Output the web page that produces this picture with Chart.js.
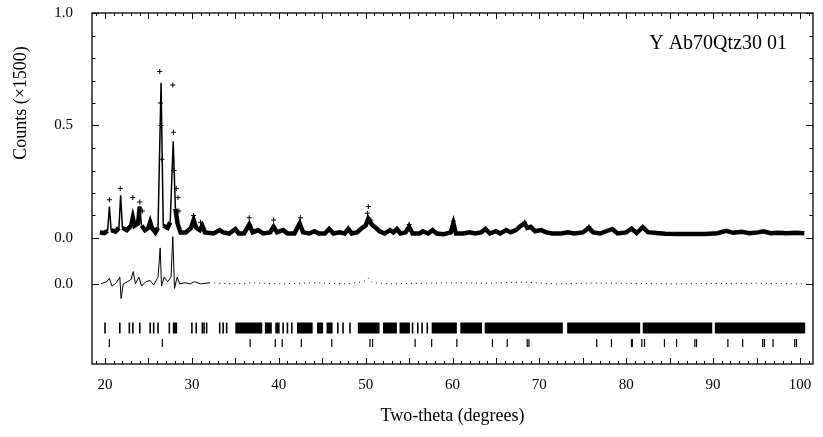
<!DOCTYPE html>
<html>
<head>
<meta charset="utf-8">
<script src="https://cdn.jsdelivr.net/npm/chart.js@4.4.1/dist/chart.umd.min.js"></script>
<style>
  html, body { margin: 0; padding: 0; background: #fff; }
  #chart { display: block; }
</style>
</head>
<body>
<canvas id="chart" width="823" height="437"></canvas>
<script>
// Calculated profile (two-theta, counts / 1500)
const calcX = [19.4, 19.9, 20.3, 20.5, 20.7, 21.2, 21.6, 21.8, 22.0, 22.5, 23.0, 23.2, 23.4, 23.8, 24.0, 24.2, 24.6, 25.0, 25.2, 25.4, 25.8, 26.1, 26.45, 26.7, 27.2, 27.5, 27.85, 28.1, 28.35, 28.7, 29.3, 29.9, 30.2, 30.5, 30.9, 31.2, 31.5, 32.5, 33.2, 33.6, 34.3, 35.0, 35.4, 36.0, 36.6, 37.0, 37.6, 38.2, 39.0, 39.4, 39.8, 40.5, 41.0, 41.8, 42.4, 42.8, 43.5, 44.1, 44.6, 45.3, 45.8, 46.3, 47.0, 47.6, 48.0, 48.4, 49.0, 49.6, 50.0, 50.3, 50.7, 51.2, 51.6, 52.2, 52.8, 53.2, 53.6, 54.0, 54.6, 55.0, 55.4, 56.2, 56.6, 57.2, 57.7, 58.2, 59.0, 59.8, 60.1, 60.4, 61.2, 62.0, 62.6, 63.3, 63.8, 64.3, 65.0, 65.5, 66.2, 66.7, 67.3, 67.9, 68.3, 68.6, 69.0, 69.5, 70.2, 70.8, 71.5, 72.5, 73.3, 74.0, 75.0, 75.7, 76.2, 77.0, 78.4, 79.0, 80.0, 80.6, 81.2, 81.9, 82.5, 83.5, 84.5, 86.0, 87.5, 89.0, 90.5, 91.5, 92.3, 93.3, 94.2, 95.2, 95.8, 96.6, 97.5, 98.5, 99.5, 100.5];
const calcY = [0.025, 0.022, 0.032, 0.14, 0.035, 0.028, 0.045, 0.19, 0.045, 0.035, 0.055, 0.09, 0.055, 0.065, 0.14, 0.055, 0.035, 0.045, 0.07, 0.045, 0.025, 0.045, 0.69, 0.055, 0.045, 0.07, 0.43, 0.13, 0.065, 0.025, 0.025, 0.045, 0.08, 0.045, 0.035, 0.055, 0.025, 0.02, 0.035, 0.025, 0.02, 0.04, 0.02, 0.02, 0.06, 0.025, 0.035, 0.02, 0.025, 0.05, 0.025, 0.035, 0.02, 0.02, 0.065, 0.025, 0.02, 0.03, 0.02, 0.02, 0.04, 0.02, 0.025, 0.02, 0.04, 0.02, 0.025, 0.045, 0.055, 0.085, 0.06, 0.045, 0.03, 0.02, 0.035, 0.025, 0.04, 0.02, 0.025, 0.05, 0.02, 0.02, 0.03, 0.02, 0.035, 0.02, 0.017, 0.025, 0.065, 0.02, 0.02, 0.025, 0.02, 0.025, 0.04, 0.02, 0.03, 0.02, 0.035, 0.025, 0.035, 0.055, 0.065, 0.045, 0.05, 0.03, 0.035, 0.025, 0.02, 0.02, 0.025, 0.02, 0.025, 0.045, 0.025, 0.02, 0.04, 0.02, 0.025, 0.042, 0.022, 0.048, 0.026, 0.022, 0.019, 0.018, 0.018, 0.018, 0.021, 0.032, 0.023, 0.028, 0.021, 0.025, 0.03, 0.021, 0.023, 0.021, 0.023, 0.021];

// Observed points standing above the profile
const obsX = [20.5, 21.75, 23.2, 24.0, 24.3, 26.3, 26.38, 26.45, 26.55, 27.8, 27.88, 27.95, 28.2, 28.4, 28.5, 30.2, 31.0, 36.6, 39.4, 42.5, 50.2, 50.3, 50.6, 55.0, 60.1, 68.3, 75.7];
const obsY = [0.17, 0.22, 0.18, 0.16, 0.12, 0.74, 0.6, 0.5, 0.35, 0.68, 0.47, 0.3, 0.22, 0.18, 0.12, 0.1, 0.07, 0.09, 0.08, 0.09, 0.11, 0.14, 0.08, 0.06, 0.075, 0.07, 0.05];

// Difference curve (obs - calc)
const diffX = [19.5, 20.2, 20.5, 20.8, 21.3, 21.7, 21.85, 22.1, 22.6, 23.0, 23.25, 23.5, 23.9, 24.2, 24.7, 25.2, 25.6, 26.1, 26.35, 26.5, 26.8, 27.2, 27.6, 27.8, 28.0, 28.3, 28.6, 29.2, 29.8, 30.3, 31.0, 32.0, 35.0, 37.0, 40.0, 44.0, 48.0, 49.8, 50.3, 50.8, 53.0, 56.0, 60.0, 64.0, 68.3, 72.0, 76.0, 80.0, 85.0, 90.0, 95.0, 100.5];
const diffY = [0, 0.01, 0.025, -0.01, 0.005, 0.03, -0.065, 0, 0.01, 0.02, 0.055, 0, 0.03, -0.01, 0.01, 0.015, -0.005, 0.03, 0.16, -0.01, 0.03, 0.01, 0.03, 0.21, -0.02, 0.03, 0, 0.005, 0, 0.01, 0, 0.005, 0, 0.005, 0, 0.005, 0, 0.01, 0.025, 0.005, 0, 0.003, 0.005, 0.003, 0.008, 0, 0.004, 0.003, 0, 0.002, 0.003, 0];

// Reflection markers
const albiteRefl = [20.0, 21.7, 22.8, 23.2, 24.0, 25.2, 25.6, 26.1, 27.4, 30.0, 30.5, 31.2, 31.4, 31.7, 33.2, 33.6, 34.0, 40.5, 41.0, 41.5, 46.8, 47.4, 48.2, 55.4, 56.0, 56.5, 57.1];
const albiteBandStart = [27.8, 35.0, 38.4, 39.6, 42.1, 44.4, 45.5, 49.1, 52.0, 53.9, 57.6, 60.9, 63.7, 73.2, 81.9, 90.2];
const albiteBandEnd = [28.3, 38.1, 39.2, 40.1, 43.9, 45.1, 46.2, 51.6, 53.6, 55.1, 60.5, 63.4, 72.7, 81.6, 89.9, 100.6];
const quartzRefl = [20.5, 26.6, 36.7, 39.6, 40.4, 42.6, 46.1, 50.5, 50.8, 55.7, 57.6, 60.5, 64.6, 66.3, 68.6, 68.8, 76.6, 78.3, 80.6, 80.7, 81.8, 82.1, 84.4, 85.8, 87.9, 88.1, 91.7, 93.4, 95.7, 95.9, 96.9, 99.4, 99.6];

// Axis ticks
const xTicks = [20, 30, 40, 50, 60, 70, 80, 90, 100];
const yTickValues = [1.0, 0.5, 0.0, -0.204];
const yTickLabels = ["1.0", "0.5", "0.0", "0.0"];

const DIFF_OFFSET = -0.204;
const ALBITE_ROW = -0.4;
const QUARTZ_ROW = -0.467;
const FONT = "'Liberation Serif', 'DejaVu Serif', serif";

const toPoints = (xs, ys, shift = 0) => xs.map((x, i) => ({ x: x, y: ys[i] + shift }));

// Band segments separated by gaps
const bandPoints = [];
albiteBandStart.forEach((start, i) => {
  bandPoints.push({ x: start, y: ALBITE_ROW });
  bandPoints.push({ x: albiteBandEnd[i], y: ALBITE_ROW });
  bandPoints.push({ x: albiteBandEnd[i], y: null });
});

// Frame, inward ticks and free text
const decorations = {
  id: "decorations",
  afterDatasetsDraw(chart) {
    const { ctx, chartArea: a, scales } = chart;
    const x = scales.x;
    const y = scales.y;
    const seg = (x1, y1, x2, y2) => {
      ctx.beginPath();
      ctx.moveTo(x1, y1);
      ctx.lineTo(x2, y2);
      ctx.stroke();
    };
    ctx.save();
    ctx.strokeStyle = "#000";
    ctx.lineWidth = 1.3;
    ctx.strokeRect(a.left, a.top, a.right - a.left, a.bottom - a.top);
    ctx.lineWidth = 1;
    for (let v = 19; v <= 101; v++) {
      const px = Math.round(x.getPixelForValue(v)) + 0.5;
      const len = v % 5 === 0 ? 6 : 3;
      seg(px, a.bottom, px, a.bottom - len);
      seg(px, a.top, px, a.top + len);
    }
    const yMarks = [];
    for (let i = 0; i <= 10; i++) yMarks.push({ v: i / 10, major: i % 5 === 0 });
    yMarks.push({ v: DIFF_OFFSET, major: true });
    yMarks.forEach((m) => {
      const py = Math.round(y.getPixelForValue(m.v)) + 0.5;
      const len = m.major ? 7 : 3.5;
      seg(a.left, py, a.left + len, py);
      seg(a.right, py, a.right - len, py);
    });
    ctx.restore();
  },
  afterDraw(chart) {
    const { ctx, chartArea: a } = chart;
    ctx.save();
    ctx.fillStyle = "#000";
    ctx.textBaseline = "middle";
    ctx.font = "18px " + FONT;
    ctx.textAlign = "center";
    ctx.fillText("Two-theta (degrees)", (a.left + a.right) / 2, 416);
    ctx.textAlign = "right";
    ctx.font = "20px " + FONT;
    ctx.fillText("Y Ab70Qtz30 01", 787, 44);
    ctx.translate(21, 103);
    ctx.rotate(-Math.PI / 2);
    ctx.textAlign = "center";
    ctx.font = "18px " + FONT;
    ctx.fillText("Counts (\u00d71500)", 0, 0);
    ctx.restore();
  },
};

new Chart(document.getElementById("chart"), {
  type: "scatter",
  data: {
    datasets: [
      {
        label: "Calculated",
        data: toPoints(calcX, calcY),
        showLine: true,
        borderColor: "#000",
        borderWidth: 4.5,
        pointRadius: 0,
        segment: {
          borderWidth: (ctx) =>
            Math.abs(ctx.p1.parsed.y - ctx.p0.parsed.y) > 0.08 ? 1.5 : 4.5,
        },
      },
      {
        label: "Observed",
        data: toPoints(obsX, obsY),
        pointStyle: "cross",
        pointRadius: 2.5,
        borderColor: "#000",
        borderWidth: 1,
      },
      {
        label: "Difference",
        data: toPoints(diffX, diffY, DIFF_OFFSET),
        showLine: true,
        borderColor: "#000",
        borderWidth: 1,
        pointRadius: 0,
        segment: {
          borderDash: (ctx) => (ctx.p0.parsed.x > 31 ? [1, 4] : undefined),
        },
      },
      {
        label: "Albite bands",
        data: bandPoints,
        showLine: true,
        spanGaps: false,
        borderColor: "#000",
        borderWidth: 11,
        borderCapStyle: "butt",
        pointRadius: 0,
      },
      {
        label: "Albite",
        data: albiteRefl.map((v) => ({ x: v, y: ALBITE_ROW })),
        pointStyle: "line",
        rotation: 90,
        pointRadius: 5.5,
        borderColor: "#000",
        borderWidth: 1.6,
      },
      {
        label: "Quartz",
        data: quartzRefl.map((v) => ({ x: v, y: QUARTZ_ROW })),
        pointStyle: "line",
        rotation: 90,
        pointRadius: 4,
        borderColor: "#000",
        borderWidth: 1.2,
      },
    ],
  },
  options: {
    responsive: false,
    animation: false,
    devicePixelRatio: 1,
    layout: { padding: { left: 0, right: 10, top: 13, bottom: 0 } },
    plugins: {
      legend: { display: false },
      tooltip: { enabled: false },
    },
    scales: {
      x: {
        type: "linear",
        min: 18.5,
        max: 101.5,
        grid: { display: false },
        border: { display: false },
        afterBuildTicks: (axis) => {
          axis.ticks = xTicks.map((v) => ({ value: v }));
        },
        afterFit: (axis) => {
          axis.height = 73;
          axis.paddingLeft = 0;
          axis.paddingRight = 0;
        },
        ticks: {
          autoSkip: false,
          maxRotation: 0,
          padding: 4,
          color: "#000",
          font: { family: FONT, size: 15 },
          callback: (value) => String(value),
        },
      },
      y: {
        type: "linear",
        min: -0.56,
        max: 1.0,
        grid: { display: false },
        border: { display: false },
        afterBuildTicks: (axis) => {
          axis.ticks = yTickValues.map((v) => ({ value: v }));
        },
        afterFit: (axis) => {
          axis.width = 92;
          axis.paddingTop = 0;
          axis.paddingBottom = 0;
        },
        ticks: {
          autoSkip: false,
          padding: 11,
          color: "#000",
          font: { family: FONT, size: 15 },
          callback: (value, index) => yTickLabels[index],
        },
      },
    },
  },
  plugins: [decorations],
});
</script>
</body>
</html>
